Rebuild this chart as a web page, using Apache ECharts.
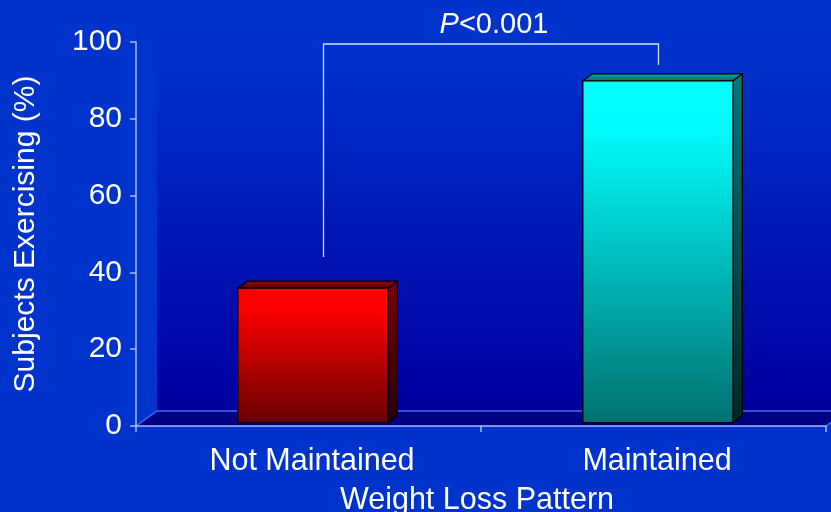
<!DOCTYPE html>
<html>
<head>
<meta charset="utf-8">
<script src="https://cdn.jsdelivr.net/npm/echarts@6/dist/echarts.min.js"></script>
<style>
  html, body { margin: 0; padding: 0; background: #0033cc; }
  #chart { width: 831px; height: 512px; }
</style>
</head>
<body>
<div id="chart"></div>
<script>
// Share of subjects exercising, by weight-loss pattern
const categories = ['Not Maintained', 'Maintained'];
const exercising = [35, 89];
const yTicks = [0, 20, 40, 60, 80, 100];

// Significance bracket: left leg bottom, top bar, right leg bottom (value units)
const bracketLevels = [44, 100, 94];
const pLabel = 'P<0.001';

const FONT = '"Liberation Sans", Arial, Helvetica, sans-serif';
const AXIS_COLOR = '#a9bdf7';

// Oblique depth of the 3D floor and of each column (pixels)
const DEPTH = [21, -15];
const COL_FRONT = [4.4, -3.4];
const COL_DEPTH = [9.4, -7];
const COL_RATIO = 0.435;

const G = echarts.graphic;
const palettes = [
  {
    front: ['#ff0000', '#ff0000', '#660000'],
    top: ['#9a0000', '#5a0000'],
    side: ['#800000', '#240000']
  },
  {
    front: ['#00ffff', '#00fafa', '#007070'],
    top: ['#00a8a8', '#006a6a'],
    side: ['#007a7a', '#002626']
  }
];

function vgrad(stops) {
  const n = stops.length;
  return new G.LinearGradient(0, 0, 0, 1,
    stops.map((c, i) => ({ offset: n === 3 && i === 1 ? 0.15 : i / (n - 1), color: c })));
}

const chart = echarts.init(document.getElementById('chart'), null, { renderer: 'canvas' });

chart.setOption({
  backgroundColor: '#0033cc',
  animation: false,
  grid: { left: 136, right: 5, top: 42, bottom: 86, containLabel: false, outerBoundsMode: 'none' },
  xAxis: {
    type: 'category',
    data: categories,
    z: 10,
    axisLine: { show: true, lineStyle: { color: AXIS_COLOR, width: 1.5 } },
    axisTick: { show: true, length: 6, lineStyle: { color: AXIS_COLOR, width: 1.5 } },
    axisLabel: {
      color: '#ffffff', fontSize: 30.5, fontFamily: FONT, margin: 20,
      padding: [0, 0, 0, 7]
    },
    name: 'Weight Loss Pattern',
    nameLocation: 'middle',
    nameGap: 59,
    nameTextStyle: { color: '#ffffff', fontSize: 30.5, fontFamily: FONT, padding: [0, 8, 0, 0] },
    splitLine: { show: false }
  },
  yAxis: {
    type: 'value',
    min: yTicks[0],
    max: yTicks[yTicks.length - 1],
    interval: yTicks[1] - yTicks[0],
    z: 10,
    axisLine: { show: true, lineStyle: { color: AXIS_COLOR, width: 1.5 } },
    axisTick: { show: true, length: 6, lineStyle: { color: AXIS_COLOR, width: 1.5 } },
    axisLabel: { color: '#ffffff', fontSize: 30, fontFamily: FONT, margin: 14 },
    splitLine: { show: false },
    name: 'Subjects Exercising (%)',
    nameLocation: 'middle',
    nameRotate: 90,
    nameGap: 95,
    nameTextStyle: { color: '#ffffff', fontSize: 30, fontFamily: FONT }
  },
  series: [
    {
      // back wall and floor of the 3D plot area
      type: 'custom',
      z: 1,
      silent: true,
      data: [[0, 0]],
      renderItem: function (params, api) {
        const cs = params.coordSys;
        const x0 = cs.x, x1 = cs.x + cs.width;
        const yTop = cs.y, yBot = cs.y + cs.height;
        const dx = DEPTH[0], dy = DEPTH[1];
        return {
          type: 'group',
          children: [
            {
              type: 'rect',
              shape: { x: x0 + dx, y: yTop + dy, width: x1 - x0 + 40, height: cs.height },
              style: {
                fill: new G.LinearGradient(0, 0, 0, 1, [
                  { offset: 0, color: '#0033cc' },
                  { offset: 0.08, color: '#0032cb' },
                  { offset: 0.96, color: '#0000a2' },
                  { offset: 1, color: '#000098' }
                ])
              }
            },
            {
              type: 'polygon',
              shape: { points: [[x0, yBot], [x1, yBot], [x1 + dx, yBot + dy], [x0 + dx, yBot + dy]] },
              style: { fill: '#000082' }
            },
            {
              type: 'polyline',
              shape: { points: [[x0, yBot], [x0 + dx, yBot + dy], [x1 + dx + 40, yBot + dy]] },
              style: { stroke: '#3a6cff', lineWidth: 1.5, fill: null }
            },
            {
              type: 'line',
              shape: { x1: x1, y1: yBot, x2: x1 + dx, y2: yBot + dy },
              style: { stroke: '#3a6cff', lineWidth: 1.5 }
            }
          ]
        };
      }
    },
    {
      // 3D columns
      type: 'custom',
      z: 3,
      data: exercising.map((v, i) => [i, v]),
      renderItem: function (params, api) {
        const idx = api.value(0);
        const base = api.coord([idx, 0]);
        const top = api.coord([idx, api.value(1)]);
        const bw = api.size([1, 0])[0] * COL_RATIO;
        const pal = palettes[params.dataIndex % palettes.length];
        const xl = base[0] - bw / 2 + COL_FRONT[0];
        const xr = xl + bw;
        const yb = base[1] + COL_FRONT[1];
        const yt = top[1] + COL_FRONT[1];
        const dx = COL_DEPTH[0], dy = COL_DEPTH[1];
        const edge = { stroke: '#000000', lineWidth: 1.2, lineJoin: 'miter' };
        return {
          type: 'group',
          children: [
            {
              type: 'polygon',
              shape: { points: [[xr, yt], [xr + dx, yt + dy], [xr + dx, yb + dy], [xr, yb]] },
              style: Object.assign({ fill: vgrad(pal.side) }, edge)
            },
            {
              type: 'polygon',
              shape: { points: [[xl, yt], [xr, yt], [xr + dx, yt + dy], [xl + dx, yt + dy]] },
              style: Object.assign({ fill: vgrad(pal.top) }, edge)
            },
            {
              type: 'rect',
              shape: { x: xl, y: yt, width: bw, height: yb - yt },
              style: Object.assign({ fill: vgrad(pal.front) }, edge)
            }
          ]
        };
      }
    },
    {
      // significance bracket between the two groups
      type: 'custom',
      z: 4,
      silent: true,
      data: [[0, 1]],
      renderItem: function (params, api) {
        const left = api.coord([0, bracketLevels[0]]);
        const topL = api.coord([0, bracketLevels[1]]);
        const right = api.coord([1, bracketLevels[2]]);
        const xa = left[0] + 15;
        const xb = right[0] + 5;
        const yTop = topL[1] + 2;
        return {
          type: 'group',
          children: [
            {
              type: 'polyline',
              shape: { points: [[xa, left[1]], [xa, yTop], [xb, yTop], [xb, right[1]]] },
              style: { stroke: '#cfdcff', lineWidth: 1.3, fill: null }
            },
            {
              type: 'text',
              style: {
                text: '{i|P}{n|' + pLabel.slice(1) + '}',
                x: (xa + xb) / 2 + 3,
                y: yTop - 5,
                align: 'center',
                verticalAlign: 'bottom',
                fill: '#ffffff',
                rich: {
                  i: { fontStyle: 'italic', fontSize: 29, fontFamily: FONT, fill: '#ffffff', color: '#ffffff' },
                  n: { fontSize: 29, fontFamily: FONT, fill: '#ffffff', color: '#ffffff' }
                }
              }
            }
          ]
        };
      }
    }
  ]
});
</script>
</body>
</html>
